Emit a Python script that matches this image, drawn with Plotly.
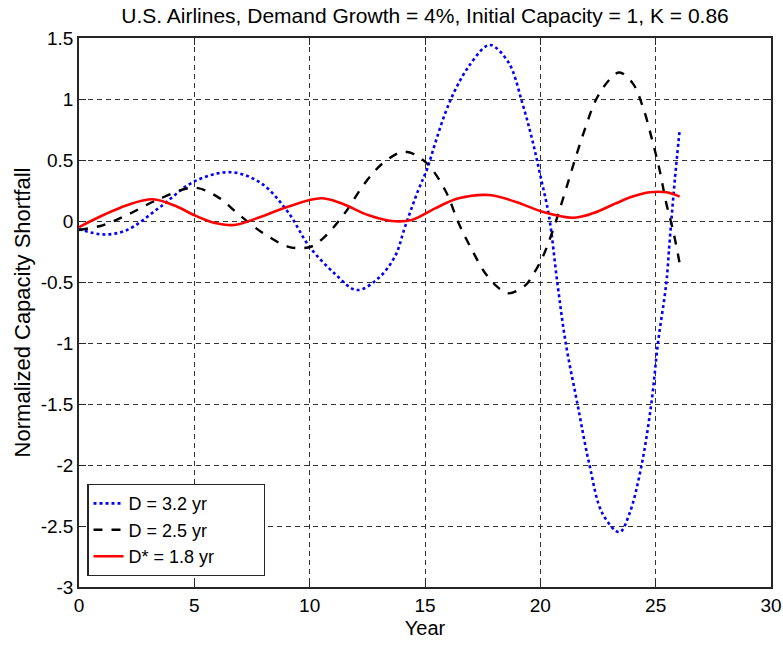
import plotly.graph_objects as go

# D = 3.2 yr (blue dotted)
years_d32 = [0, 1.06, 2.08, 3.53, 4.98, 6.58, 7.89, 9.05, 9.99, 11.08, 12.05, 12.97, 13.7, 14.13,
             14.71, 15.08, 15.44, 15.87, 16.31, 16.89, 17.62, 17.9, 18.64, 19.22, 19.65, 20.01,
             20.38, 20.74, 21.1, 21.61, 22.12, 22.7, 23.43, 23.86, 24.37, 24.81, 25.1, 25.46,
             25.61, 25.83, 26.04]
short_d32 = [-0.066, -0.11, -0.074, 0.117, 0.322, 0.40, 0.31, 0.076, -0.21, -0.43, -0.566, -0.47,
             -0.29, -0.05, 0.254, 0.42, 0.637, 0.88, 1.075, 1.266, 1.43, 1.44, 1.294, 0.966, 0.665,
             0.364, 0.035, -0.51, -1.0, -1.5, -1.99, -2.40, -2.55, -2.40, -2.02, -1.50, -1.0, -0.51,
             -0.156, 0.336, 0.746]

# D = 2.5 yr (black dashed)
years_d25 = [0, 1.06, 2.08, 3.38, 4.98, 5.99, 6.87, 7.89, 9.05, 9.6, 10.07, 10.65, 11.52, 12.39,
             13.26, 14.13, 15.0, 15.87, 16.46, 17.04, 17.62, 18.2, 18.64, 19.36, 19.65, 20.09,
             20.52, 21.1, 21.54, 21.97, 22.41, 22.99, 23.43, 24.0, 24.44, 24.81, 25.17, 25.46,
             25.75, 26.04]
short_d25 = [-0.074, -0.033, 0.049, 0.172, 0.273, 0.2, 0.063, -0.088, -0.21, -0.222, -0.21, -0.13,
             0.063, 0.31, 0.487, 0.568, 0.487, 0.254, -0.019, -0.238, -0.43, -0.55, -0.593, -0.525,
             -0.45, -0.30, -0.09, 0.254, 0.527, 0.774, 0.993, 1.157, 1.217, 1.13, 0.938, 0.692,
             0.418, 0.145, -0.074, -0.347]

# D* = 1.8 yr (red solid)
years_d18 = [0, 1.06, 2.08, 3.2, 4.26, 4.98, 5.85, 6.72, 7.89, 9.05, 10.5, 11.37, 12.53, 13.55,
             14.42, 15.44, 16.46, 17.77, 18.92, 20.09, 21.4, 22.27, 23.28, 24.0, 24.74, 25.46, 26.04]
short_d18 = [-0.05, 0.049, 0.13, 0.178, 0.117, 0.049, -0.014, -0.033, 0.035, 0.117, 0.186, 0.145,
             0.049, 0.0, 0.008, 0.104, 0.186, 0.213, 0.158, 0.076, 0.027, 0.063, 0.145, 0.2, 0.235,
             0.235, 0.2]

series_names = ["D = 3.2 yr", "D = 2.5 yr", "D* = 1.8 yr"]
x_ticks = [0, 5, 10, 15, 20, 25, 30]
y_ticks = [1.5, 1, 0.5, 0, -0.5, -1, -1.5, -2, -2.5, -3]
y_tick_labels = ["1.5", "1", "0.5", "0", "-0.5", "-1", "-1.5", "-2", "-2.5", "-3"]

FONT = "Liberation Sans, Arial, sans-serif"
PAD = "\u00a0" * 9  # widens the legend box like the reference

fig = go.Figure()
fig.add_trace(go.Scatter(x=years_d32, y=short_d32, mode="lines", name=series_names[0] + PAD,
                         line=dict(color="#0000ff", width=2.6, dash="dot", shape="spline")))
fig.add_trace(go.Scatter(x=years_d25, y=short_d25, mode="lines", name=series_names[1] + PAD,
                         line=dict(color="#000000", width=2.4, dash="dash", shape="spline")))
fig.add_trace(go.Scatter(x=years_d18, y=short_d18, mode="lines", name=series_names[2] + PAD,
                         line=dict(color="#ff0000", width=2.6, shape="spline")))

axis_common = dict(
    showline=True, linecolor="#262626", linewidth=1.5, mirror="ticks",
    ticks="inside", ticklen=7, tickcolor="#262626",
    showgrid=True, gridcolor="#333333", gridwidth=1, griddash="5px,4px",
    zeroline=False, automargin=False,
    tickfont=dict(family=FONT, size=19, color="#000000"),
)

fig.update_layout(
    width=783, height=645,
    margin=dict(l=79, r=12, t=38, b=58),
    paper_bgcolor="white", plot_bgcolor="white",
    font=dict(family=FONT, size=19, color="#000000"),
    title=dict(text="U.S. Airlines, Demand Growth = 4%, Initial Capacity = 1, K = 0.86",
               x=0.5, xref="paper", xanchor="center", y=1 - 16 / 645, yref="container",
               yanchor="middle", font=dict(family=FONT, size=21)),
    xaxis=dict(range=[0, 30], tickvals=x_ticks,
               title=dict(text="Year", font=dict(family=FONT, size=20), standoff=6),
               **axis_common),
    yaxis=dict(range=[-3, 1.5], tickvals=y_ticks, ticktext=y_tick_labels,
               title=dict(text="Normalized Capacity Shortfall", font=dict(family=FONT, size=22),
                          standoff=4),
               **axis_common),
    legend=dict(x=0.012, y=0.02, xanchor="left", yanchor="bottom",
                bgcolor="white", bordercolor="#262626", borderwidth=1.2,
                font=dict(family=FONT, size=18), tracegroupgap=0),
    showlegend=True,
)

fig.write_html("out.html", config={"displayModeBar": False},
               post_script="document.body.style.margin='0';document.body.style.overflow='hidden';")
